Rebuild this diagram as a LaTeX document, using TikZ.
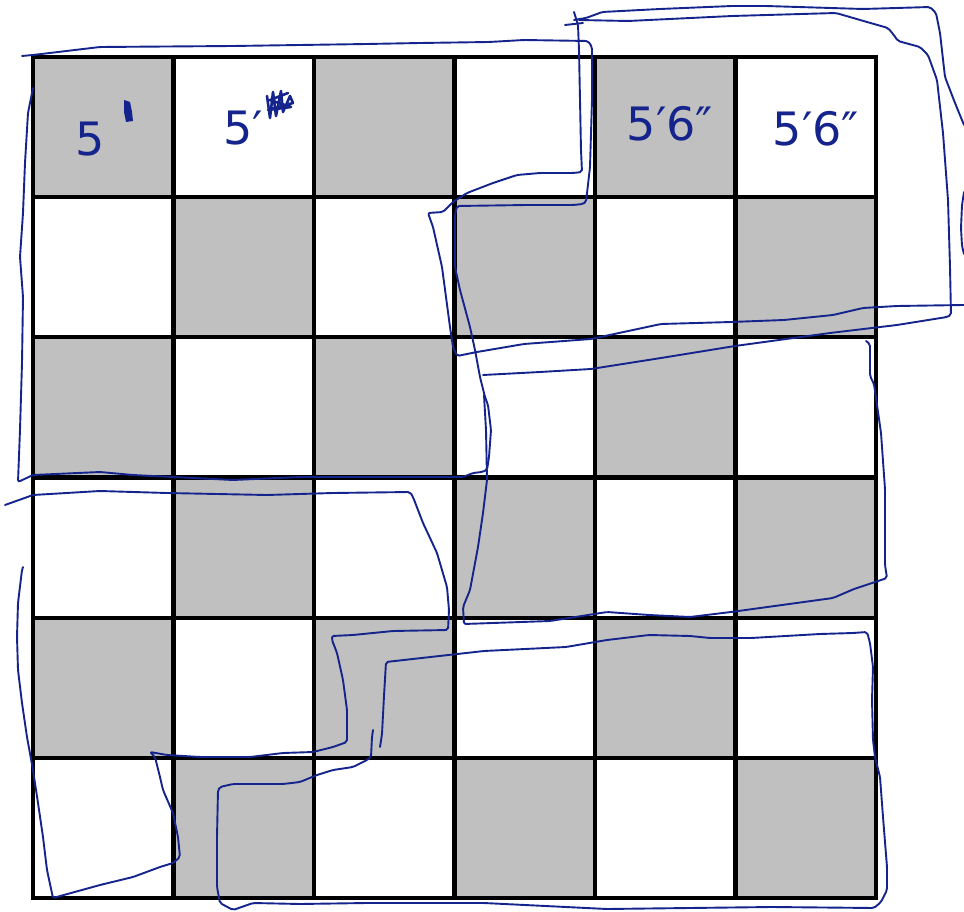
\documentclass[tikz,border=0pt]{standalone}
\usepackage{fontspec}
\usepackage{tikz}
\newfontfamily\handfont{DejaVu Sans}
\definecolor{ink}{RGB}{20,36,140}
\definecolor{cellgray}{RGB}{192,192,192}
\tikzset{
  pen/.style={draw=ink, line width=1.9pt, line join=round, line cap=round, rounded corners=2pt},
  gridline/.style={line width=4.2pt, black, line cap=rect},
  hand/.style={text=ink, font=\fontsize{46}{46}\selectfont\handfont, inner sep=0pt},
}
\begin{document}
\begin{tikzpicture}[x=1pt,y=-1pt]
\useasboundingbox (0,0) rectangle (964,912);
\fill[white] (0,0) rectangle (964,912);
% board
\foreach \i in {0,...,5}{
  \foreach \j in {0,...,5}{
    \pgfmathtruncatemacro\s{mod(\i+\j,2)}
    \ifnum\s=0
      \fill[cellgray] ({33+140.5*\i},{57+140.17*\j}) rectangle ++(140.5,140.17);
    \fi
  }
}
\foreach \k in {0,...,6}{
  \draw[gridline] ({33+140.5*\k},57) -- ({33+140.5*\k},898);
  \draw[gridline] (33,{57+140.17*\k}) -- (876,{57+140.17*\k});
}
% top-left region
\draw[pen] (22,56) -- (33,55) -- (100,47) -- (233,46) -- (300,45) -- (367,44) -- (420,43) -- (489,42) -- (524,40) -- (588,41) -- (592,47) -- (592,100) -- (590,167) -- (586,202) -- (583,204) -- (573,205) -- (527,205) -- (457,206) -- (455,215) -- (455,267) -- (460,290) -- (470,327) -- (475,350) -- (480,377) -- (485,397) -- (488,405) -- (491,430) -- (489,457) -- (487,470) -- (482,472) -- (473,473) -- (463,477) -- (420,477) -- (300,477) -- (233,480) -- (133,475) -- (100,472) -- (33,475) -- (18,482) -- (20,430) -- (22,363) -- (23,297) -- (20,257) -- (23,213) -- (25,163) -- (28,113) -- (33,88);
% outer top-right loop
\draw[pen] (574,20) -- (586,18) -- (597,14) -- (602,12) -- (660,9) -- (732,6) -- (766,6) -- (863,9) -- (930,7) -- (936,13) -- (940,33) -- (945,77) -- (955,103) -- (964,125);
\draw[pen] (964,192) -- (962,205) -- (961,228) -- (962,246) -- (964,254);
\draw[pen] (964,305) -- (897,306) -- (863,308) -- (833,315) -- (784,320) -- (731,322) -- (661,324) -- (591,339) -- (524,344) -- (477,352) -- (457,356) -- (453,347) -- (450,327) -- (442,267) -- (433,227) -- (428,213) -- (443,212) -- (453,202) -- (467,193) -- (493,183) -- (517,175) -- (540,173) -- (573,173) -- (582,172) -- (581,150) -- (580,100) -- (579,50) -- (578,25) -- (574,12);
\draw[pen] (565,25) -- (583,23);
% inner top-right loop
\draw[pen] (579,20) -- (628,21) -- (732,16) -- (836,13) -- (867,22) -- (888,28) -- (893,34) -- (898,41) -- (920,47) -- (928,55) -- (937,80) -- (943,133) -- (948,200) -- (950,267) -- (951,315) -- (947,317) -- (897,325) -- (830,333) -- (735,346) -- (661,358) -- (591,369) -- (540,372) -- (483,375);
% middle-right region
\draw[pen] (866,341) -- (870,344) -- (870,376) -- (874,384) -- (881,433) -- (885,489) -- (885,565) -- (887,578) -- (854,589) -- (833,598) -- (731,612) -- (690,617) -- (649,615) -- (607,612) -- (550,621) -- (464,624) -- (463,607) -- (470,590) -- (478,547) -- (483,513) -- (487,480) -- (486,430) -- (484,395);
% bottom-left region
\draw[pen] (5,505) -- (33,495) -- (100,491) -- (167,493) -- (267,495) -- (333,493) -- (410,492) -- (413,497) -- (423,523) -- (437,553) -- (447,587) -- (449,610) -- (448,630) -- (393,631) -- (373,633) -- (353,635) -- (332,636) -- (332,640) -- (337,653) -- (343,680) -- (347,710) -- (347,742) -- (333,747) -- (313,752) -- (283,753) -- (250,757) -- (200,757) -- (167,755) -- (150,752) -- (155,757) -- (160,777) -- (163,790) -- (173,813) -- (178,837) -- (180,857) -- (173,863) -- (160,867) -- (133,877) -- (100,885) -- (53,898) -- (47,870) -- (43,837) -- (38,803) -- (33,770) -- (27,737) -- (22,703) -- (18,670) -- (17,637) -- (18,603) -- (22,570) -- (23,567);
% bottom-right region
\draw[pen] (373,730) -- (372,737) -- (371,757) -- (367,760) -- (353,767) -- (333,770) -- (317,775) -- (300,782) -- (283,784) -- (233,784) -- (220,787) -- (218,790) -- (217,837) -- (217,887) -- (220,903) -- (233,910) -- (253,903) -- (300,904) -- (367,903) -- (484,903) -- (607,909) -- (772,907) -- (874,908) -- (881,902) -- (887,890) -- (887,867) -- (883,817) -- (880,777) -- (875,757) -- (873,740) -- (872,700) -- (873,667) -- (870,643) -- (867,632) -- (853,633) -- (820,634) -- (751,638) -- (710,638) -- (690,636) -- (649,635) -- (607,640) -- (566,647) -- (525,649) -- (484,651) -- (386,662) -- (384,696) -- (382,734) -- (380,747);
% handwriting
\node[hand] (t1) at (90,139) {5};
\fill[ink] (124,100) -- (130,102) -- (132,112) -- (133,121) -- (126,122) -- (124,112) -- cycle;
\node[hand] (t2) at (243,128) {5′};
\draw[ink, line width=2.6pt, line join=round, line cap=round] (267,96) -- (270,118) -- (273,92) -- (276,116) -- (281,91) -- (283,112) -- (290,96) -- (293,103) -- (268,110) -- (291,107) -- (270,100) -- (288,93);
\node[hand] (t3) at (670,124) {5′6″};
\node[hand] (t4) at (816,129) {5′6″};
\end{tikzpicture}
\end{document}
